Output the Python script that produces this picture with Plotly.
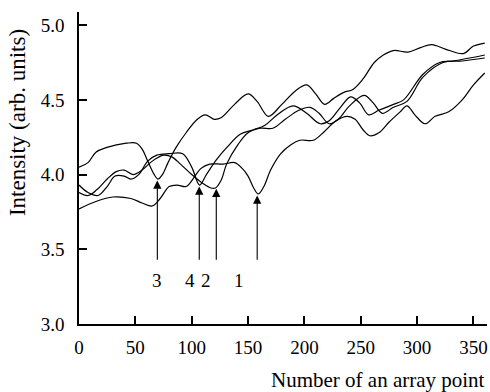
import plotly.graph_objects as go

# Curve 1
x1 = [0, 15, 30, 46, 56, 65, 72, 80, 87, 95, 102, 108, 116, 128, 138, 145, 150, 155, 159, 164, 170, 179, 188, 196, 208, 218, 228, 238, 245, 252, 258, 266, 275, 285, 291, 298, 307, 316, 328, 340, 350, 360]
y1 = [3.77, 3.82, 3.85, 3.84, 3.81, 3.79, 3.84, 3.92, 3.93, 3.92, 3.98, 4.04, 4.07, 4.07, 4.08, 4.04, 3.99, 3.91, 3.87, 3.92, 4.03, 4.14, 4.20, 4.23, 4.23, 4.29, 4.36, 4.39, 4.37, 4.30, 4.26, 4.28, 4.35, 4.42, 4.46, 4.40, 4.34, 4.39, 4.42, 4.50, 4.60, 4.68]

# Curve 2
x2 = [0, 8, 16, 25, 33, 40, 48, 56, 65, 75, 82, 90, 100, 110, 117, 121, 126, 131, 141, 150, 161, 172, 183, 195, 205, 213, 222, 230, 240, 253, 261, 269, 279, 291, 305, 323, 340, 360]
y2 = [3.88, 3.86, 3.90, 3.97, 4.02, 4.03, 4.00, 4.03, 4.09, 4.13, 4.12, 4.07, 4.00, 3.94, 3.91, 3.91, 3.96, 4.07, 4.20, 4.28, 4.31, 4.31, 4.37, 4.43, 4.45, 4.41, 4.34, 4.37, 4.46, 4.53, 4.48, 4.41, 4.45, 4.49, 4.65, 4.75, 4.76, 4.78]

# Curve 3
x3 = [0, 8, 15, 24, 42, 51, 56, 61, 66, 70, 74, 79, 86, 95, 105, 112, 120, 126, 138, 150, 158, 168, 180, 192, 202, 210, 218, 226, 235, 243, 252, 262, 270, 279, 292, 303, 313, 325, 341, 350, 360]
y3 = [4.05, 4.08, 4.15, 4.18, 4.21, 4.21, 4.17, 4.09, 4.01, 3.97, 4.00, 4.08, 4.18, 4.28, 4.37, 4.40, 4.37, 4.38, 4.47, 4.54, 4.49, 4.39, 4.47, 4.56, 4.60, 4.54, 4.47, 4.51, 4.55, 4.57, 4.64, 4.75, 4.80, 4.83, 4.82, 4.85, 4.87, 4.84, 4.81, 4.86, 4.88]

# Curve 4
x4 = [0, 8, 17, 25, 32, 40, 46, 53, 61, 69, 80, 92, 100, 107, 113, 122, 131, 143, 155, 165, 176, 190, 202, 214, 222, 232, 241, 249, 257, 266, 279, 288, 305, 320, 332, 360]
y4 = [3.93, 3.88, 3.86, 3.92, 3.99, 3.99, 3.97, 4.00, 4.09, 4.13, 4.14, 4.14, 4.05, 3.93, 4.00, 4.10, 4.18, 4.27, 4.30, 4.33, 4.40, 4.46, 4.41, 4.34, 4.36, 4.45, 4.52, 4.48, 4.40, 4.43, 4.47, 4.50, 4.67, 4.75, 4.76, 4.80]

# Arrows and labels
arrow_x = [69.5, 106.7, 121.8, 158.1]
arrow_tip = [3.96, 3.92, 3.905, 3.86]
arrow_tail = 3.42
label_text = ["3", "4", "2", "1"]
label_x = [69.5, 98.7, 112.9, 142.2]
label_y = 3.29

x_ticks = [0, 50, 100, 150, 200, 250, 300, 350]
y_ticks = [3.0, 3.5, 4.0, 4.5, 5.0]

FONT = "Liberation Serif"

fig = go.Figure()
for xs, ys in [(x1, y1), (x2, y2), (x3, y3), (x4, y4)]:
    fig.add_trace(go.Scatter(x=xs, y=ys, mode="lines",
                             line=dict(color="black", width=1.2, shape="spline", smoothing=1.0),
                             showlegend=False, hoverinfo="skip"))

annotations = []
for ax_, tip in zip(arrow_x, arrow_tip):
    annotations.append(dict(x=ax_, y=tip, ax=ax_, ay=arrow_tail, xref="x", yref="y",
                            axref="x", ayref="y", text="", showarrow=True,
                            arrowhead=2, arrowsize=1.5, arrowwidth=1.1, arrowcolor="black",
                            standoff=0, startstandoff=0))
for t, lx in zip(label_text, label_x):
    annotations.append(dict(x=lx, y=label_y, xref="x", yref="y", text=t, showarrow=False,
                            font=dict(family=FONT, size=19, color="black")))
annotations.append(dict(x=1.0, y=-0.178, xref="paper", yref="paper", xanchor="right", yanchor="middle",
                        text="Number of an array point", showarrow=False,
                        font=dict(family=FONT, size=21, color="black")))
annotations.append(dict(x=-0.152, y=0.647, xref="paper", yref="paper", xanchor="center", yanchor="middle",
                        text="Intensity (arb. units)", textangle=-90, showarrow=False,
                        font=dict(family=FONT, size=23, color="black")))

fig.update_layout(
    width=490, height=392,
    margin=dict(l=79, r=3, t=12, b=68),
    paper_bgcolor="white", plot_bgcolor="white",
    annotations=annotations,
    font=dict(family=FONT, size=19, color="black"),
)
fig.update_xaxes(range=[0, 362], tickvals=x_ticks, ticktext=[str(v) for v in x_ticks],
                 ticks="inside", ticklen=8, tickwidth=1.5, tickcolor="black",
                 showline=True, linecolor="black", linewidth=1.5, showgrid=False, zeroline=False,
                 ticklabelstandoff=5, tickfont=dict(family=FONT, size=19))
fig.update_yaxes(range=[3.0, 5.088], tickvals=y_ticks, ticktext=["%.1f" % v for v in y_ticks],
                 ticks="inside", ticklen=8, tickwidth=1.5, tickcolor="black",
                 showline=True, linecolor="black", linewidth=1.5, showgrid=False, zeroline=False,
                 ticklabelstandoff=9, tickfont=dict(family=FONT, size=19))

fig.write_html("out.html")
